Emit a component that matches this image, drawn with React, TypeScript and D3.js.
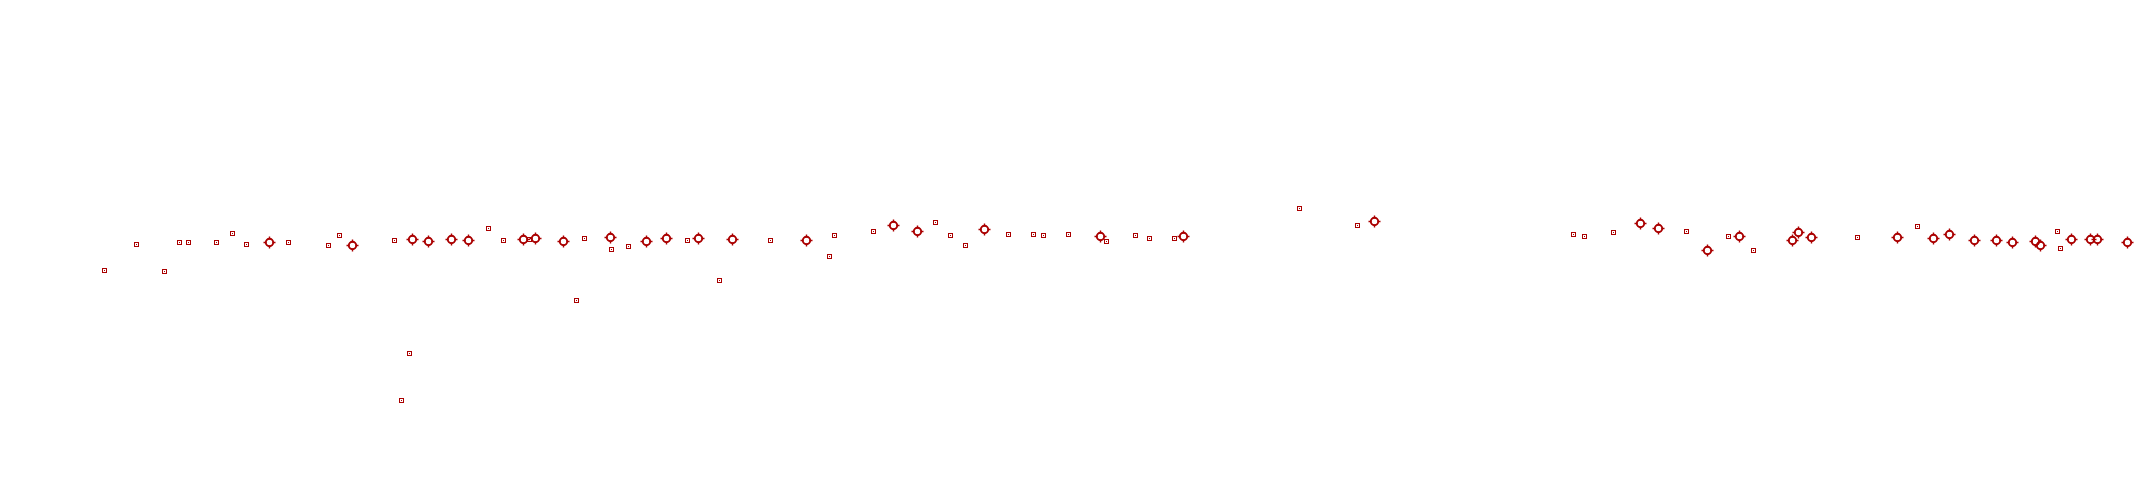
import React from "react";
import * as d3 from "d3";

// Series A (open squares): x position, value
const squareX = [10.4, 13.6, 16.4, 17.9, 18.8, 21.6, 23.2, 24.6, 28.8, 32.8, 33.9, 39.4, 40.1, 40.9, 48.8, 50.3, 52.9, 57.6, 58.4, 61.1, 62.8, 68.7, 71.9, 77.0, 82.9, 83.4, 87.3, 93.5, 95.0, 96.5, 100.8, 103.3, 104.3, 106.8, 110.6, 113.5, 114.9, 117.4, 129.9, 135.7, 157.3, 158.4, 161.3, 168.6, 172.8, 175.3, 185.7, 191.7, 205.7, 206.0];
const squareY = [23.0, 25.6, 22.9, 25.8, 25.8, 25.8, 26.7, 25.6, 25.8, 25.5, 26.5, 26.0, 10.0, 14.7, 27.2, 26.0, 26.1, 20.0, 26.2, 25.1, 25.4, 26.0, 22.0, 26.0, 24.4, 26.5, 26.9, 27.8, 26.5, 25.5, 26.6, 26.6, 26.5, 26.6, 25.9, 26.5, 26.2, 26.2, 29.2, 27.5, 26.6, 26.4, 26.8, 26.9, 26.4, 25.0, 26.3, 27.4, 26.9, 25.2];

// Series B (circled crosses)
const circleX = [26.9, 35.2, 41.2, 42.8, 45.1, 46.8, 52.3, 53.5, 56.3, 61.0, 64.6, 66.6, 69.8, 73.2, 80.6, 89.3, 91.7, 98.4, 110.0, 118.3, 137.4, 164.0, 165.8, 170.7, 173.9, 179.2, 179.8, 181.1, 189.7, 193.3, 194.9, 197.4, 199.6, 201.2, 203.5, 204.0, 207.1, 209.0, 209.7, 212.7];
const circleY = [25.8, 25.5, 26.1, 25.9, 26.1, 26.0, 26.1, 26.2, 25.9, 26.3, 25.9, 26.2, 26.2, 26.1, 26.0, 27.5, 26.9, 27.1, 26.4, 26.4, 27.9, 27.7, 27.2, 25.0, 26.4, 26.0, 26.8, 26.3, 26.3, 26.2, 26.6, 26.0, 26.0, 25.8, 25.9, 25.5, 26.1, 26.1, 26.1, 25.8];

const W = 2136;
const H = 500;
const COLOR = "#aa0000";

export default function App() {
  const x = d3.scaleLinear().domain([0, 213.6]).range([0, W]);
  const y = d3.scaleLinear().domain([0, 50]).range([H, 0]);
  const px = (v: number) => Math.floor(x(v) + 1e-6) + 0.5;
  const py = (v: number) => Math.floor(y(v) + 1e-6) + 0.5;

  const squares = squareX.map((v, i) => ({ cx: px(v), cy: py(squareY[i]) }));
  const circles = circleX.map((v, i) => ({ cx: px(v), cy: py(circleY[i]) }));

  return (
    <svg
      width={W}
      height={H}
      style={{ position: "absolute", left: 0, top: 0, background: "#fff" }}
    >
      <g>
        {squares.map((d, i) => (
          <g key={"s" + i} shapeRendering="crispEdges">
            <rect x={d.cx - 2} y={d.cy - 2} width={4} height={4} fill="none" stroke={COLOR} strokeWidth={1} />
            <rect x={d.cx - 0.5} y={d.cy - 0.5} width={1} height={1} fill={COLOR} />
          </g>
        ))}
      </g>
      <g>
        {circles.map((d, i) => (
          <g key={"c" + i} transform={`translate(${d.cx},${d.cy})`}>
            <circle r={3.7} fill="none" stroke={COLOR} strokeWidth={1.9} />
            <path d="M0,-6V-3M0,3V6M-6,0H-3M3,0H6" stroke={COLOR} strokeWidth={1.4} />
          </g>
        ))}
      </g>
    </svg>
  );
}
